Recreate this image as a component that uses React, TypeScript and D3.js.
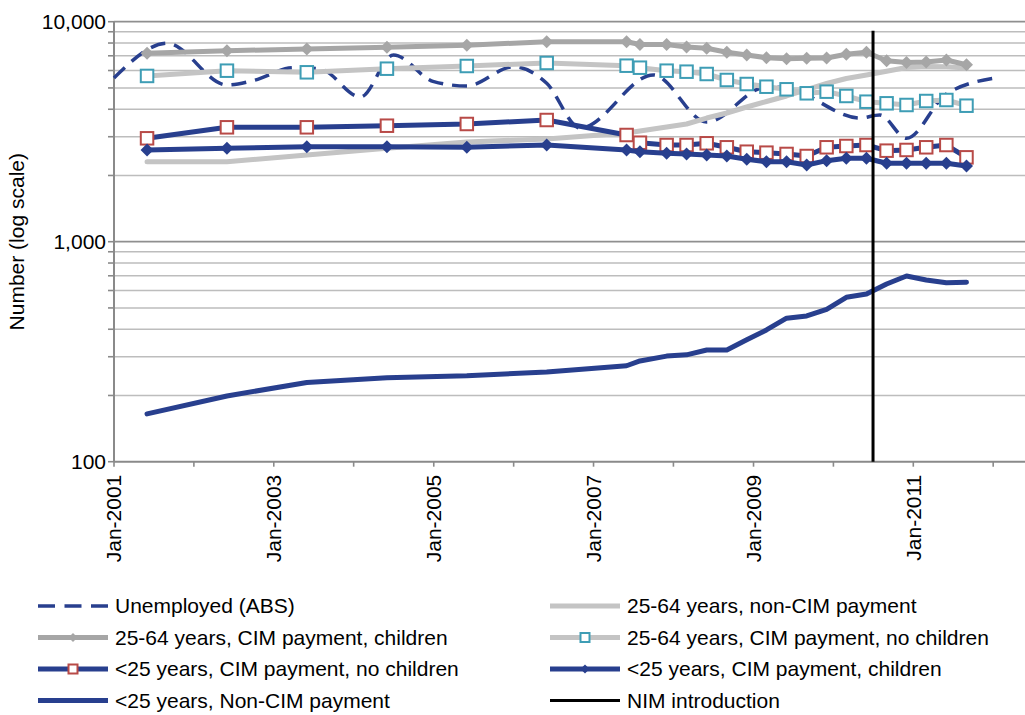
import React from "react";
import * as d3 from "d3";

// ---------- data ----------
const cimDates = [
  "2001-06", "2002-06", "2003-06", "2004-06", "2005-06", "2006-06", "2007-06",
  "2007-08", "2007-12", "2008-03", "2008-06", "2008-09", "2008-12", "2009-03",
  "2009-06", "2009-09", "2009-12", "2010-03", "2010-06", "2010-09", "2010-12",
  "2011-03", "2011-06", "2011-09",
];

const age2564NonCim = [
  2311, 2311, 2477, 2657, 2839, 2930, 3119, 3185, 3321, 3428, 3649, 3846, 4095,
  4338, 4596, 4918, 5237, 5519, 5726, 5952, 6192, 6258, 6245, 6160,
];

const age2564CimChildren = [
  7183, 7382, 7514, 7649, 7810, 8110, 8110, 7878, 7878, 7673, 7570, 7266, 7056,
  6861, 6782, 6825, 6840, 7115, 7266, 6642, 6525, 6560, 6697, 6375,
];

const age2564CimNoChildren = [
  5668, 5989, 5888, 6115, 6290, 6493, 6310, 6179, 5989, 5927, 5785, 5433, 5209,
  5064, 4929, 4727, 4808, 4596, 4329, 4256, 4182, 4360, 4406, 4151,
];

const under25CimNoChildren = [
  2951, 3311, 3311, 3367, 3428, 3574, 3055, 2818, 2751, 2751, 2801, 2686, 2565,
  2539, 2505, 2452, 2686, 2723, 2751, 2593, 2612, 2686, 2751, 2418,
];

const under25CimChildren = [
  2612, 2657, 2703, 2703, 2686, 2751, 2612, 2566, 2523, 2505, 2477, 2452, 2369,
  2311, 2311, 2233, 2335, 2394, 2394, 2272, 2272, 2272, 2272, 2208,
];

const under25NonCim = [
  165, 199, 229, 241, 246, 256, 273, 287, 302, 306, 322, 322, 358, 397, 449,
  460, 493, 559, 578, 642, 698, 670, 651, 654,
];

const unemployedDates = [
  "2001-01", "2001-09", "2002-06", "2002-10", "2003-04", "2003-08", "2004-02",
  "2004-07", "2005-01", "2005-06", "2006-01", "2006-06", "2006-11", "2007-10",
  "2008-06", "2009-03", "2009-06", "2010-05", "2010-08", "2010-12", "2011-06",
  "2012-02",
];
const unemployedValues = [
  5547, 7977, 5156, 5405, 6179, 6095, 4547, 7057, 5338, 5102, 6245, 5248, 3286,
  5726, 3500, 5049, 4990, 3649, 3765, 2951, 4692, 5590,
];

const nimDate = "2010-07";
const nimValues = [100, 9100];

const yMajorTicks = [100, 1000, 10000];
const yMinorTicks = [200, 300, 400, 500, 600, 700, 800, 900, 2000, 3000, 4000, 5000, 6000, 7000, 8000, 9000];
const xTickYears = [2001, 2002, 2003, 2004, 2005, 2006, 2007, 2008, 2009, 2010, 2011, 2012, 2013];
const xLabelYears = [2001, 2003, 2005, 2007, 2009, 2011];

const legendLabels = [
  "Unemployed (ABS)",
  "25-64 years, non-CIM payment",
  "25-64 years, CIM payment, children",
  "25-64 years, CIM payment, no children",
  "<25 years, CIM payment, no children",
  "<25 years, CIM payment, children",
  "<25 years, Non-CIM payment",
  "NIM introduction",
];

// ---------- styles ----------
const BLUE = "#283f8e";
const GREY_DARK = "#a6a6a6";
const GREY_LIGHT = "#c4c4c4";
const TEAL = "#3e9db5";
const RED = "#b84a47";
const FONT = "'Liberation Sans', Arial, sans-serif";
const FS = 21;

const parse = d3.timeParse("%Y-%m");

type Marker = "none" | "diamond" | "square";
interface Series {
  label: string;
  dates: string[];
  values: number[];
  color: string;
  width: number;
  dash?: string;
  marker: Marker;
  markerStroke?: string;
  markerFill?: string;
  smooth?: boolean;
}

const series: Series[] = [
  { label: legendLabels[0], dates: unemployedDates, values: unemployedValues, color: BLUE, width: 3.5, dash: "15,9", marker: "none", smooth: true },
  { label: legendLabels[1], dates: cimDates, values: age2564NonCim, color: GREY_LIGHT, width: 5, marker: "none" },
  { label: legendLabels[2], dates: cimDates, values: age2564CimChildren, color: GREY_DARK, width: 5, marker: "diamond", markerFill: GREY_DARK },
  { label: legendLabels[3], dates: cimDates, values: age2564CimNoChildren, color: GREY_LIGHT, width: 5, marker: "square", markerStroke: TEAL, markerFill: "#ffffff" },
  { label: legendLabels[4], dates: cimDates, values: under25CimNoChildren, color: BLUE, width: 5, marker: "square", markerStroke: RED, markerFill: "#ffffff" },
  { label: legendLabels[5], dates: cimDates, values: under25CimChildren, color: BLUE, width: 5, marker: "diamond", markerFill: BLUE },
  { label: legendLabels[6], dates: cimDates, values: under25NonCim, color: BLUE, width: 5, marker: "none" },
];

function markerEl(kind: Marker, cx: number, cy: number, s: Series, size: number, key: string) {
  if (kind === "diamond") {
    const r = size / 2;
    return <path key={key} d={`M${cx},${cy - r}L${cx + r},${cy}L${cx},${cy + r}L${cx - r},${cy}Z`} fill={s.markerFill} />;
  }
  if (kind === "square") {
    return (
      <rect key={key} x={cx - size / 2} y={cy - size / 2} width={size} height={size}
        fill={s.markerFill} stroke={s.markerStroke} strokeWidth={2} />
    );
  }
  return null;
}

export default function App() {
  const W = 1025;
  const H = 715;
  const x = d3.scaleTime().domain([new Date(2001, 0, 1), new Date(2011, 0, 1)]).range([114, 913.3]);
  const y = d3.scaleLog().domain([100, 10000]).range([461.7, 21.7]);
  const left = x(new Date(2001, 0, 1));
  const right = W + 40;
  const bottom = y(100);

  const mkLine = (s: Series) =>
    d3
      .line<number>()
      .x((_, i) => x(parse(s.dates[i]) as Date))
      .y((v) => y(v))
      .curve(s.smooth ? d3.curveMonotoneX : d3.curveLinear)(s.values) || "";

  const nimX = x(parse(nimDate) as Date);

  const legendCols = [38, 550];
  const legendRows = [606, 637.5, 669, 700.5];
  const sampleLen = 70;

  return (
    <svg width={W} height={H} style={{ position: "absolute", left: 0, top: 0, background: "#fff" }} fontFamily={FONT}>
      {/* gridlines */}
      {yMinorTicks.map((v) => (
        <line key={"g" + v} x1={left} x2={right} y1={y(v)} y2={y(v)} stroke="#bdbdbd" strokeWidth={1.6} />
      ))}
      {yMajorTicks.filter((v) => v !== 100).map((v) => (
        <line key={"G" + v} x1={left} x2={right} y1={y(v)} y2={y(v)} stroke="#8f8f8f" strokeWidth={1.8} />
      ))}
      {/* y ticks */}
      {[...yMajorTicks, ...yMinorTicks].map((v) => (
        <line key={"yt" + v} x1={left - 6} x2={left} y1={y(v)} y2={y(v)} stroke="#8a8a8a" strokeWidth={1.6} />
      ))}
      {/* x ticks */}
      {xTickYears.map((yr) => {
        const px = x(new Date(yr, 0, 1));
        return <line key={"xt" + yr} x1={px} x2={px} y1={bottom} y2={bottom + 5} stroke="#8a8a8a" strokeWidth={1.6} />;
      })}
      {/* axes */}
      <line x1={left} x2={left} y1={y(10000)} y2={bottom} stroke="#8a8a8a" strokeWidth={2} />
      <line x1={left} x2={right} y1={bottom} y2={bottom} stroke="#8a8a8a" strokeWidth={2} />

      {/* y labels */}
      {yMajorTicks.map((v) => (
        <text key={"yl" + v} x={106} y={y(v)} dy="0.35em" textAnchor="end" fontSize={FS} fill="#000">
          {d3.format(",")(v)}
        </text>
      ))}
      <text transform={`translate(24,${(y(10000) + bottom) / 2}) rotate(-90)`} textAnchor="middle" fontSize={FS} fill="#000">
        Number (log scale)
      </text>
      {/* x labels */}
      {xLabelYears.map((yr) => {
        const px = x(new Date(yr, 0, 1));
        return (
          <text key={"xl" + yr} transform={`translate(${px},${bottom + 13}) rotate(-90)`} dy="0.35em" textAnchor="end" fontSize={FS} fill="#000">
            {`Jan-${yr}`}
          </text>
        );
      })}

      {/* series */}
      {series.map((s, si) => (
        <g key={"s" + si}>
          <path d={mkLine(s)} fill="none" stroke={s.color} strokeWidth={s.width} strokeDasharray={s.dash}
            strokeLinejoin="round" strokeLinecap={s.dash ? "butt" : "round"} />
          {s.marker !== "none" &&
            s.values.map((v, i) => markerEl(s.marker, x(parse(s.dates[i]) as Date), y(v), s, s.marker === "square" ? 12.5 : 13, `m${si}-${i}`))}
        </g>
      ))}

      {/* NIM introduction */}
      <line x1={nimX} x2={nimX} y1={y(nimValues[1])} y2={y(nimValues[0])} stroke="#000" strokeWidth={3} />

      {/* legend */}
      {legendLabels.map((lab, i) => {
        const col = i % 2;
        const row = Math.floor(i / 2);
        const lx = legendCols[col];
        const ly = legendRows[row];
        const cx = lx + sampleLen / 2;
        const s = series[i];
        return (
          <g key={"lg" + i}>
            {s ? (
              <>
                <line x1={lx} x2={lx + sampleLen} y1={ly} y2={ly} stroke={s.color} strokeWidth={s.width}
                  strokeDasharray={s.dash ? "17,9.5" : undefined} strokeLinecap="butt" />
                {s.marker !== "none" && markerEl(s.marker, cx, ly, s, 9, "lm" + i)}
              </>
            ) : (
              <line x1={lx} x2={lx + sampleLen} y1={ly} y2={ly} stroke="#000" strokeWidth={3} />
            )}
            <text x={lx + sampleLen + 7} y={ly} dy="0.35em" fontSize={FS} fill="#000">
              {lab}
            </text>
          </g>
        );
      })}
    </svg>
  );
}
